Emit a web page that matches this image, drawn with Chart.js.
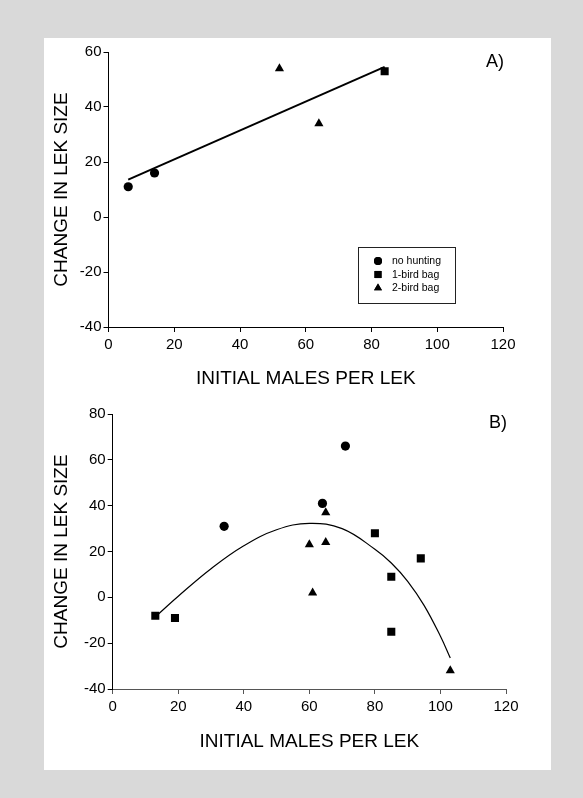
<!DOCTYPE html>
<html>
<head>
<meta charset="utf-8">
<script src="https://cdn.jsdelivr.net/npm/chart.js@4.4.1/dist/chart.umd.min.js"></script>
<style>
  body { margin: 0; background: #d9d9d9; font-family: "Liberation Sans", Arial, sans-serif; }
  #sheet { position: absolute; left: 44px; top: 38px; width: 507px; height: 732px; background: #fff; }
  canvas { position: absolute; left: 0; }
  #chartA { top: 0; }
  #chartB { top: 400px; }
</style>
</head>
<body>
<div id="sheet"></div>
<canvas id="chartA" width="583" height="400"></canvas>
<canvas id="chartB" width="583" height="398"></canvas>
<script>
// DATA - panel A
const aNoHuntX = [6, 14];
const aNoHuntY = [11, 16];
const aOneBirdX = [84];
const aOneBirdY = [53];
const aTwoBirdX = [52, 64];
const aTwoBirdY = [54, 34];
const aFitX = [6, 84];
const aFitY = [13.6, 54.6];

// DATA - panel B
const bNoHuntX = [34, 64, 71];
const bNoHuntY = [31, 41, 66];
const bOneBirdX = [13, 19, 80, 85, 85, 94];
const bOneBirdY = [-8, -9, 28, 9, -15, 17];
const bTwoBirdX = [60, 61, 65, 65, 103];
const bTwoBirdY = [23, 2, 37, 24, -32];
const bFitX = [13, 20, 30, 40, 50, 60, 70, 80, 85, 90, 95, 100, 103];
const bFitY = [-8.5, 0.5, 12.5, 22.5, 29.5, 32.3, 30, 21, 15, 7, -3.5, -17, -26.5];

const groupLabels = ["no hunting", "1-bird bag", "2-bird bag"];
const xTitle = "INITIAL MALES PER LEK";
const yTitle = "CHANGE IN LEK SIZE";
const FONT = "'Liberation Sans', Arial, sans-serif";

function pts(xs, ys) {
  return xs.map((x, i) => ({ x: x, y: ys[i] }));
}

function markerSet(label, xs, ys, style, r) {
  return {
    type: "scatter", label: label, data: pts(xs, ys),
    pointStyle: style, pointRadius: r, pointHoverRadius: r,
    backgroundColor: "#000", borderColor: "#000", borderWidth: 0,
  };
}

function axis(min, max, titleText, yWidth, xHeight, isX, titlePad, borderColor) {
  return {
    type: "linear", min: min, max: max,
    ticks: { stepSize: 20, color: "#000", font: { family: FONT, size: 15 }, padding: isX ? 4 : 2 },
    grid: { drawOnChartArea: false, tickLength: 5, tickColor: borderColor || "#000", lineWidth: 1 },
    border: { display: true, color: borderColor || "#000", width: 1 },
    title: { display: true, text: titleText, color: "#000", font: { family: FONT, size: 19 }, padding: titlePad },
    afterFit: (s) => { if (isX) s.height = xHeight; else s.width = yWidth; },
  };
}

// legend box + panel letter
function extras(letter, lx, ly, showLegend) {
  return {
    id: "extras" + letter,
    afterDraw(chart) {
      const ctx = chart.ctx;
      const area = chart.chartArea;
      ctx.save();
      ctx.fillStyle = "#000";
      ctx.font = "18px " + FONT;
      ctx.textAlign = "right";
      ctx.textBaseline = "middle";
      ctx.fillText(letter + ")", area.right + 1, ly);
      if (showLegend) {
        const bx = lx, by = 247, bw = 97, bh = 56;
        ctx.fillStyle = "#fff";
        ctx.fillRect(bx, by, bw, bh);
        ctx.strokeStyle = "#222";
        ctx.lineWidth = 1;
        ctx.strokeRect(bx + 0.5, by + 0.5, bw, bh);
        const styles = ["circle", "rect", "triangle"];
        const radii = [4, 5, 4.6];
        ctx.font = "10.5px " + FONT;
        ctx.textAlign = "left";
        groupLabels.forEach((t, i) => {
          const yy = 261 + i * 13.5;
          ctx.fillStyle = "#000";
          Chart.helpers.drawPoint(ctx, { pointStyle: styles[i], radius: radii[i], borderWidth: 0 }, bx + 20, yy);
          ctx.fill();
          ctx.fillText(t, bx + 34, yy + 0.5);
        });
      }
      ctx.restore();
    },
  };
}

// PANEL A
new Chart(document.getElementById("chartA"), {
  type: "scatter",
  data: {
    datasets: [
      markerSet(groupLabels[0], aNoHuntX, aNoHuntY, "circle", 4.6),
      markerSet(groupLabels[1], aOneBirdX, aOneBirdY, "rect", 5.7),
      markerSet(groupLabels[2], aTwoBirdX, aTwoBirdY, "triangle", 5.3),
      { type: "line", label: "fit", data: pts(aFitX, aFitY), borderColor: "#000", borderWidth: 2, pointRadius: 0, fill: false },
    ],
  },
  options: {
    responsive: false, animation: false,
    layout: { padding: { top: 52, right: 80, bottom: 0, left: 0 } },
    plugins: { legend: { display: false }, tooltip: { enabled: false } },
    scales: {
      x: axis(0, 120, xTitle, 0, 73, true, { top: 0, bottom: 10 }),
      y: axis(-40, 60, yTitle, 108.5, 0, false, { top: 50, bottom: 0 }),
    },
  },
  plugins: [extras("A", 358, 62, true)],
});

// PANEL B
new Chart(document.getElementById("chartB"), {
  type: "scatter",
  data: {
    datasets: [
      markerSet(groupLabels[0], bNoHuntX, bNoHuntY, "circle", 4.6),
      markerSet(groupLabels[1], bOneBirdX, bOneBirdY, "rect", 5.7),
      markerSet(groupLabels[2], bTwoBirdX, bTwoBirdY, "triangle", 5.3),
      { type: "line", label: "fit", data: pts(bFitX, bFitY), borderColor: "#000", borderWidth: 1.2, pointRadius: 0, fill: false, tension: 0.4 },
    ],
  },
  options: {
    responsive: false, animation: false,
    layout: { padding: { top: 14, right: 77, bottom: 0, left: 0 } },
    plugins: { legend: { display: false }, tooltip: { enabled: false } },
    scales: {
      x: axis(0, 120, xTitle, 0, 109, true, { top: 0, bottom: 45 }, "#555"),
      y: axis(-40, 80, yTitle, 112.7, 0, false, { top: 50, bottom: 0 }),
    },
  },
  plugins: [extras("B", 0, 23, false)],
});
</script>
</body>
</html>
